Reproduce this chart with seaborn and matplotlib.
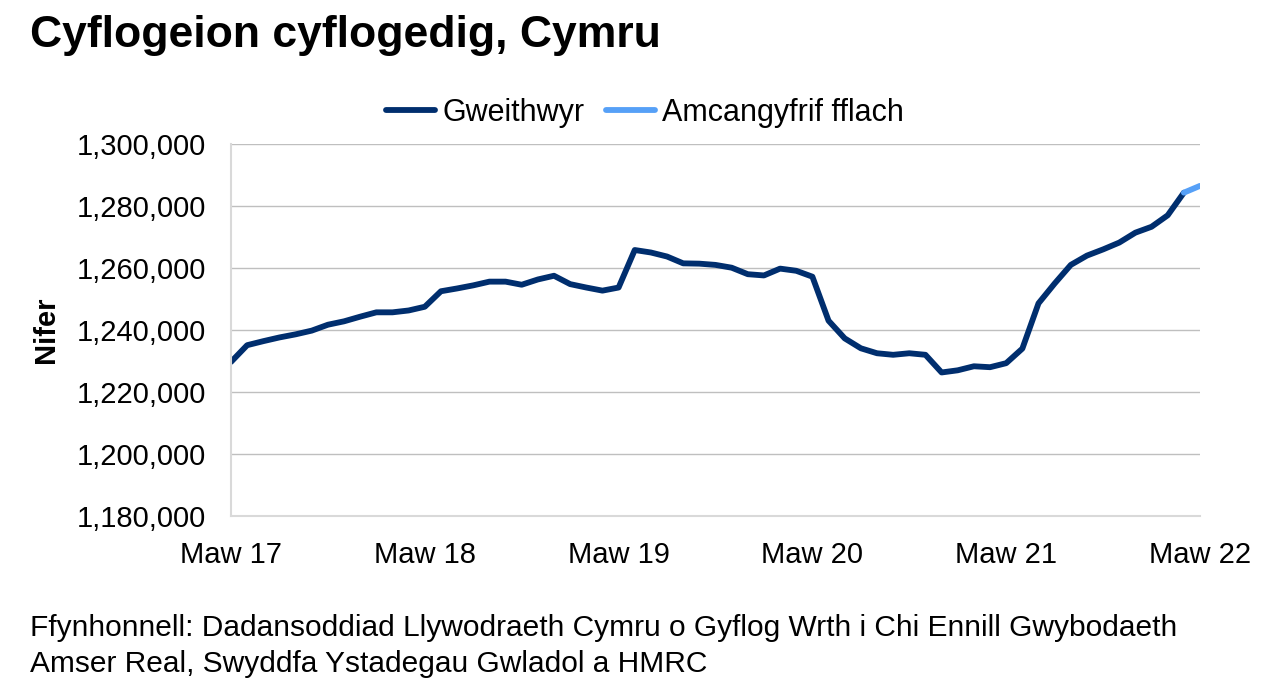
import matplotlib
matplotlib.use("Agg")
import matplotlib.pyplot as plt
import seaborn as sns
import pandas as pd

# Gweithwyr cyflogedig, misol o Fawrth 2017 i Chwefror 2022
gweithwyr = [
    1229700, 1235100, 1236400, 1237600, 1238600, 1239800, 1241700, 1242800,
    1244300, 1245700, 1245700, 1246300, 1247500, 1252500, 1253400, 1254400,
    1255600, 1255600, 1254600, 1256300, 1257500, 1254800, 1253700, 1252700,
    1253700, 1265800, 1265000, 1263700, 1261500, 1261400, 1261000, 1260100,
    1258000, 1257600, 1259800, 1259100, 1257200, 1243000, 1237300, 1234100,
    1232500, 1232000, 1232500, 1232000, 1226300, 1227000, 1228300, 1228000,
    1229300, 1234000, 1248600, 1255000, 1261000, 1264000, 1266000, 1268200,
    1271400, 1273300, 1277000, 1284300,
]
# Amcangyfrif fflach: Chwefror 2022 -> Mawrth 2022
fflach = [1284300, 1286500]

tick_labels = ["Maw 17", "Maw 18", "Maw 19", "Maw 20", "Maw 21", "Maw 22"]
y_ticks = [1180000, 1200000, 1220000, 1240000, 1260000, 1280000, 1300000]

navy = "#002E6E"
light_blue = "#56A0F7"

n = len(gweithwyr)
df = pd.concat([
    pd.DataFrame({"mis": range(n), "Nifer": gweithwyr, "cyfres": "Gweithwyr"}),
    pd.DataFrame({"mis": range(n - 1, n - 1 + len(fflach)), "Nifer": fflach,
                  "cyfres": "Amcangyfrif fflach"}),
])

sns.set_style("white")
plt.rcParams["font.family"] = ["Liberation Sans", "DejaVu Sans"]
plt.rcParams["text.color"] = "black"
plt.rcParams["xtick.color"] = "black"
plt.rcParams["ytick.color"] = "black"
plt.rcParams["axes.labelcolor"] = "black"

fig = plt.figure(figsize=(12.77, 6.93), dpi=100)
ax = fig.add_axes([231 / 1277, 1 - 516 / 693, 969 / 1277, 372 / 693])

sns.lineplot(data=df, x="mis", y="Nifer", hue="cyfres",
             palette={"Gweithwyr": navy, "Amcangyfrif fflach": light_blue},
             linewidth=4.2, ax=ax, legend=False)

ax.set_xlim(0, n)
ax.set_ylim(1180000, 1300000)
ax.set_xticks(range(0, n + 1, 12))
ax.set_xticklabels(tick_labels)
ax.set_yticks(y_ticks)
ax.set_yticklabels([f"{v:,}" for v in y_ticks])
ax.tick_params(axis="x", labelsize=21, length=8, width=1.2, color="#D9D9D9",
               labelcolor="black", direction="out", pad=10)
ax.tick_params(axis="y", labelsize=21, length=0, pad=18, labelcolor="black")
ax.grid(axis="y", color="#BFBFBF", linewidth=1.0)
ax.set_axisbelow(True)
for side in ["top", "right"]:
    ax.spines[side].set_visible(False)
for side in ["left", "bottom"]:
    ax.spines[side].set_color("#D9D9D9")
    ax.spines[side].set_linewidth(1.5)

ax.set_xlabel("")
ax.set_ylabel("Nifer", fontsize=21, fontweight="bold", labelpad=12)

# legend
handles = [plt.Line2D([], [], color=navy, linewidth=4.2, solid_capstyle="round"),
           plt.Line2D([], [], color=light_blue, linewidth=4.2, solid_capstyle="round")]
fig.legend(handles, ["Gweithwyr", "Amcangyfrif fflach"], loc="center",
           bbox_to_anchor=(645 / 1277, 1 - 113 / 693), ncol=2, frameon=False,
           fontsize=22, handlelength=1.6, handletextpad=0.25, columnspacing=0.7)

fig.text(30 / 1277, 1 - 35 / 693, "Cyflogeion cyflogedig, Cymru",
         fontsize=32, fontweight="bold", va="center", ha="left")
fig.text(30 / 1277, 1 - 628 / 693,
         "Ffynhonnell: Dadansoddiad Llywodraeth Cymru o Gyflog Wrth i Chi Ennill Gwybodaeth",
         fontsize=21.5, va="center", ha="left")
fig.text(30 / 1277, 1 - 664 / 693,
         "Amser Real, Swyddfa Ystadegau Gwladol a HMRC",
         fontsize=21.5, va="center", ha="left")

fig.savefig("out.png", dpi=100)
